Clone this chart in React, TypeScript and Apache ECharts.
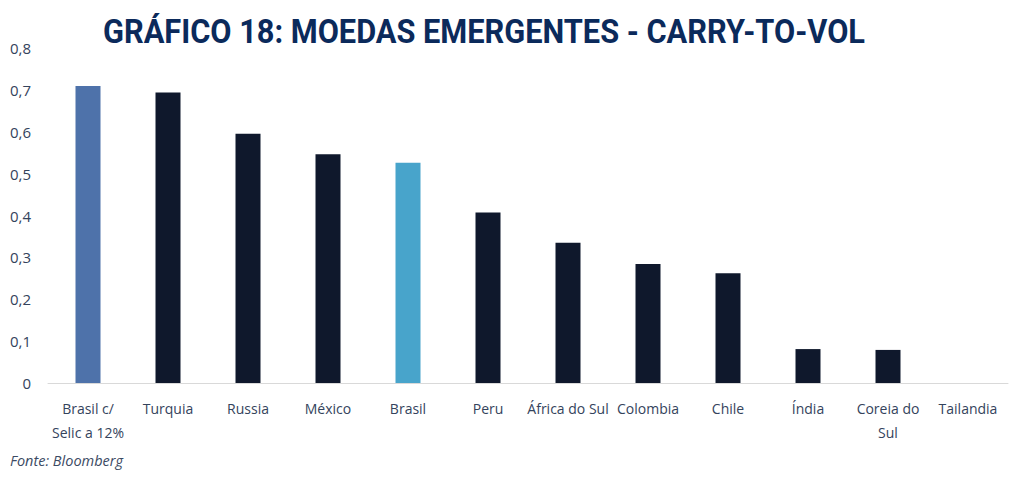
import React, { useEffect, useRef } from "react";
import * as echarts from "echarts";

const categories = [
  "Brasil c/\nSelic a 12%",
  "Turquia",
  "Russia",
  "México",
  "Brasil",
  "Peru",
  "África do Sul",
  "Colombia",
  "Chile",
  "Índia",
  "Coreia do\nSul",
  "Tailandia",
];
const values = [0.709, 0.694, 0.595, 0.546, 0.526, 0.407, 0.335, 0.284, 0.262, 0.081, 0.079, 0];
const barColors = [
  "#4e72aa", "#0f182c", "#0f182c", "#0f182c", "#48a4cb", "#0f182c",
  "#0f182c", "#0f182c", "#0f182c", "#0f182c", "#0f182c", "#0f182c",
];
const yTicks = [0, 0.1, 0.2, 0.3, 0.4, 0.5, 0.6, 0.7, 0.8];

export default function App() {
  const ref = useRef<HTMLDivElement>(null);
  useEffect(() => {
    if (!ref.current) return;
    const chart = echarts.init(ref.current, undefined, { renderer: "svg" });
    chart.setOption({
      animation: false,
      graphic: [
        {
          type: "text",
          x: 484,
          y: 14,
          scaleX: 0.905,
          style: {
            text: "GRÁFICO 18: MOEDAS EMERGENTES - CARRY-TO-VOL",
            font: "bold 34px Roboto",
            fill: "#0b2a5b",
            textAlign: "center",
            textVerticalAlign: "top",
          },
        },
        {
          type: "text",
          left: 10,
          top: 453,
          style: {
            text: "Fonte: Bloomberg",
            font: "italic 14.5px 'Open Sans'",
            fill: "#3b4a63",
          },
        },
      ],
      grid: { left: 48, width: 960, top: 48, height: 335, containLabel: false },
      xAxis: {
        type: "category",
        data: categories,
        axisLine: { lineStyle: { color: "#d9d9d9", width: 1 } },
        axisTick: { show: false },
        axisLabel: {
          interval: 0,
          color: "#34435c",
          fontFamily: "Open Sans",
          fontSize: 14,
          lineHeight: 24,
          margin: 13,
        },
      },
      yAxis: {
        type: "value",
        min: 0,
        max: yTicks[yTicks.length - 1],
        interval: 0.1,
        splitLine: { show: false },
        axisLine: { show: false },
        axisTick: { show: false },
        axisLabel: {
          color: "#34435c",
          fontFamily: "Open Sans",
          fontSize: 15,
          margin: 17,
          formatter: (v: number) => (Math.round(v * 10) / 10).toString().replace(".", ","),
        },
      },
      series: [
        {
          type: "bar",
          barWidth: 25,
          data: values.map((v, i) => ({ value: v, itemStyle: { color: barColors[i] } })),
        },
      ],
    });
    return () => chart.dispose();
  }, []);
  return (
    <div
      ref={ref}
      style={{ position: "absolute", left: 0, top: 0, width: 1024, height: 482, background: "#fff" }}
    />
  );
}
